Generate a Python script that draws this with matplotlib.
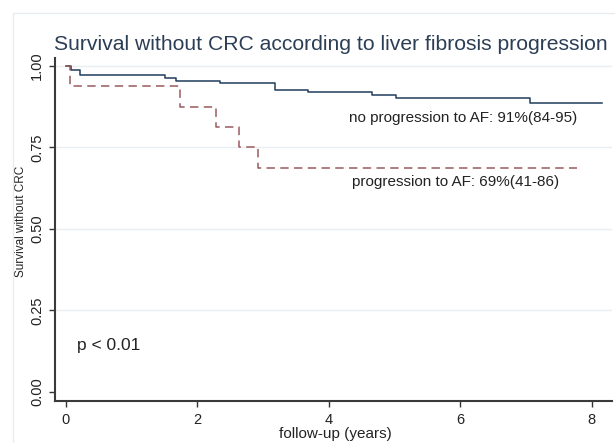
import matplotlib.pyplot as plt
from matplotlib.patches import Rectangle

plt.rcParams['font.family'] = ['Liberation Sans', 'DejaVu Sans']

# Kaplan-Meier step data
no_prog_time = [0.0, 0.08, 0.21, 1.50, 1.67, 2.34, 3.18, 3.68, 4.66, 5.02, 7.06, 8.16]
no_prog_surv = [1.000, 0.988, 0.973, 0.964, 0.955, 0.949, 0.927, 0.921, 0.912, 0.902, 0.885, 0.885]

prog_time = [0.0, 0.06, 1.73, 2.28, 2.63, 2.92, 7.78]
prog_surv = [1.0, 0.9375, 0.875, 0.8125, 0.75, 0.6875, 0.6875]

xticks = [0, 2, 4, 6, 8]
yticks = [0.00, 0.25, 0.50, 0.75, 1.00]
ytick_labels = ['0.00', '0.25', '0.50', '0.75', '1.00']

fig = plt.figure(figsize=(6.15, 4.43), dpi=100)
# faint outer frame of the graph region
fig.patches.append(Rectangle((13 / 615, -0.05), 1.1, 1 - 13 / 443 + 0.05,
                             transform=fig.transFigure, fill=False,
                             edgecolor='#e6ecf0', linewidth=1.0))

ax = fig.add_axes([55 / 615, 1 - 401 / 443, (612 - 55) / 615, (401 - 58) / 443])

ax.step(no_prog_time, no_prog_surv, where='post', color='#1f3d5c', linewidth=1.1)
ax.step(prog_time, prog_surv, where='post', color='#9a5a5c', linewidth=1.1,
        linestyle=(0, (5.5, 3.5)))

ax.set_xlim(-0.167, 8.31)
ax.set_ylim(-0.0276, 1.0245)
ax.set_xticks(xticks)
ax.set_yticks(yticks)
ax.set_yticklabels(ytick_labels, rotation=90, va='center')
ax.tick_params(axis='both', labelsize=10.5, colors='#333333', length=4, width=1.0,
               direction='out')
ax.tick_params(axis='x', pad=4.5)
ax.tick_params(axis='y', pad=4)
for lab in ax.get_xticklabels() + ax.get_yticklabels():
    lab.set_color('#222222')

for y in [0.25, 0.5, 0.75, 1.0]:
    ax.axhline(y, color='#e9eef1', linewidth=1.0, zorder=0)

for side in ['top', 'right']:
    ax.spines[side].set_visible(False)
for side in ['left', 'bottom']:
    ax.spines[side].set_color('#3a3a3a')
    ax.spines[side].set_linewidth(1.5)

ax.set_xlabel('follow-up (years)', fontsize=11, color='#222222', va='center')
ax.xaxis.set_label_coords((335 - 55) / 557, -(434 - 401) / 343)
ax.set_ylabel('Survival without CRC', fontsize=8.5, color='#222222', va='center')
ax.yaxis.set_label_coords((21 - 55) / 557, (401 - 221) / 343)

fig.text(54 / 615, 1 - 44 / 443, 'Survival without CRC according to liver fibrosis progression',
         fontsize=15.2, color='#2c3e55', va='center', ha='left')

ax.text(4.3, 0.841, 'no progression to AF: 91%(84-95)', fontsize=11,
        color='#222222', va='center', ha='left')
ax.text(4.36, 0.643, 'progression to AF: 69%(41-86)', fontsize=11,
        color='#222222', va='center', ha='left')
ax.text(0.17, 0.143, 'p < 0.01', fontsize=12.5, color='#222222', va='center', ha='left')

plt.savefig('out.png', dpi=100)
